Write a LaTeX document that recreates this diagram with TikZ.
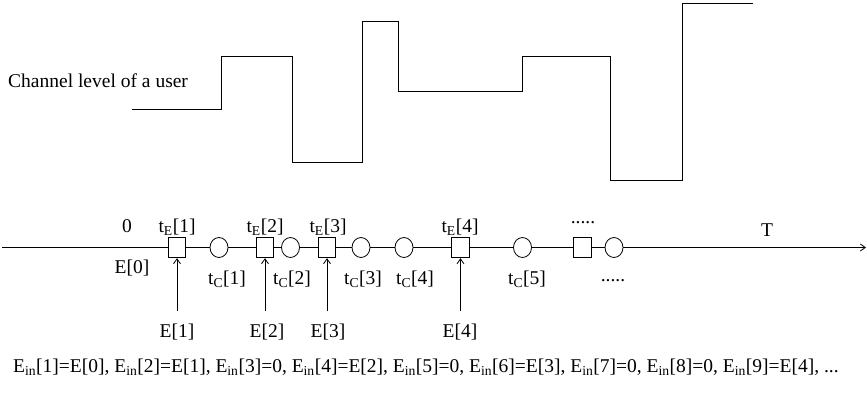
\documentclass[tikz,border=0pt]{standalone}
\usepackage{fontspec}
\setmainfont{Liberation Serif}
\usetikzlibrary{shapes.geometric,arrows.meta}
\begin{document}
\begin{tikzpicture}[x=1pt,y=-1pt,
  every node/.style={font=\fontsize{19.5}{23}\selectfont, inner sep=0pt},
  lbl/.style={anchor=base},
  sq/.style={draw, fill=white, rectangle, minimum width=17.5pt, minimum height=20.5pt, line width=0.8pt},
  ov/.style={draw, fill=white, ellipse, minimum width=18pt, minimum height=20pt, line width=0.8pt},
  ln/.style={line width=0.8pt},
  tip/.style={-{Straight Barb[length=5pt,width=7pt]}}
]
\useasboundingbox (0,0) rectangle (867,394);
% channel level
\node[anchor=base west] (chl) at (8,87) {Channel level of a user};
\draw[ln] (132,109) -| (221,56) -| (292,162) -| (362,21) -| (398,91) -| (522,56) -| (610,180) -| (682,3) -- (753,3);
% timeline
\coordinate (st) at (2,247.5);
\coordinate (en) at (866,247.5);
\node[sq] (s1) at (177,247.5) {};
\node[ov] (c1) at (219,247.5) {};
\node[sq] (s2) at (265,247.5) {};
\node[ov] (c2) at (290.5,247.5) {};
\node[sq] (s3) at (327,247.5) {};
\node[ov] (c3) at (361,247.5) {};
\node[ov] (c4) at (404,247.5) {};
\node[sq] (s4) at (460.5,247.5) {};
\node[ov] (c5) at (522.5,247.5) {};
\node[sq] (s5) at (582.5,247.5) {};
\node[ov] (c6) at (614,247.5) {};
\draw[ln] (st) -- (s1) -- (c1) -- (s2) -- (c2) -- (s3) -- (c3) -- (c4) -- (s4) -- (c5) -- (s5) -- (c6);
\draw[ln,tip] (c6) -- (en);
% upper labels
\node[lbl] (l0) at (127,232) {0};
\node[lbl] (te1) at (177,232) {t\textsubscript{E}[1]};
\node[lbl] (te2) at (265,232) {t\textsubscript{E}[2]};
\node[lbl] (te3) at (328,232) {t\textsubscript{E}[3]};
\node[lbl] (te4) at (460,232) {t\textsubscript{E}[4]};
\node[lbl] (dt) at (583,223) {.....};
\node[lbl] (tT) at (767,236) {T};
% lower labels
\node[lbl] (e0) at (132,273) {E[0]};
\node[lbl] (tc1) at (227,284) {t\textsubscript{C}[1]};
\node[lbl] (tc2) at (292,284) {t\textsubscript{C}[2]};
\node[lbl] (tc3) at (363,284) {t\textsubscript{C}[3]};
\node[lbl] (tc4) at (415,284) {t\textsubscript{C}[4]};
\node[lbl] (tc5) at (527,284) {t\textsubscript{C}[5]};
\node[lbl] (db) at (613,281) {.....};
% energy arrivals
\coordinate (a1) at (177,311);
\coordinate (a2) at (265,311);
\coordinate (a3) at (327,311);
\coordinate (a4) at (460.5,311);
\draw[ln,tip] (a1) -- (s1);
\draw[ln,tip] (a2) -- (s2);
\draw[ln,tip] (a3) -- (s3);
\draw[ln,tip] (a4) -- (s4);
\node[lbl] (e1) at (177,337) {E[1]};
\node[lbl] (e2) at (267,337) {E[2]};
\node[lbl] (e3) at (328,337) {E[3]};
\node[lbl] (e4) at (460,337) {E[4]};
% bottom equation line
\node[anchor=base west] (eq) at (13,372) {E\textsubscript{in}[1]=E[0], E\textsubscript{in}[2]=E[1], E\textsubscript{in}[3]=0, E\textsubscript{in}[4]=E[2], E\textsubscript{in}[5]=0, E\textsubscript{in}[6]=E[3], E\textsubscript{in}[7]=0, E\textsubscript{in}[8]=0, E\textsubscript{in}[9]=E[4], ...};
\end{tikzpicture}
\end{document}
